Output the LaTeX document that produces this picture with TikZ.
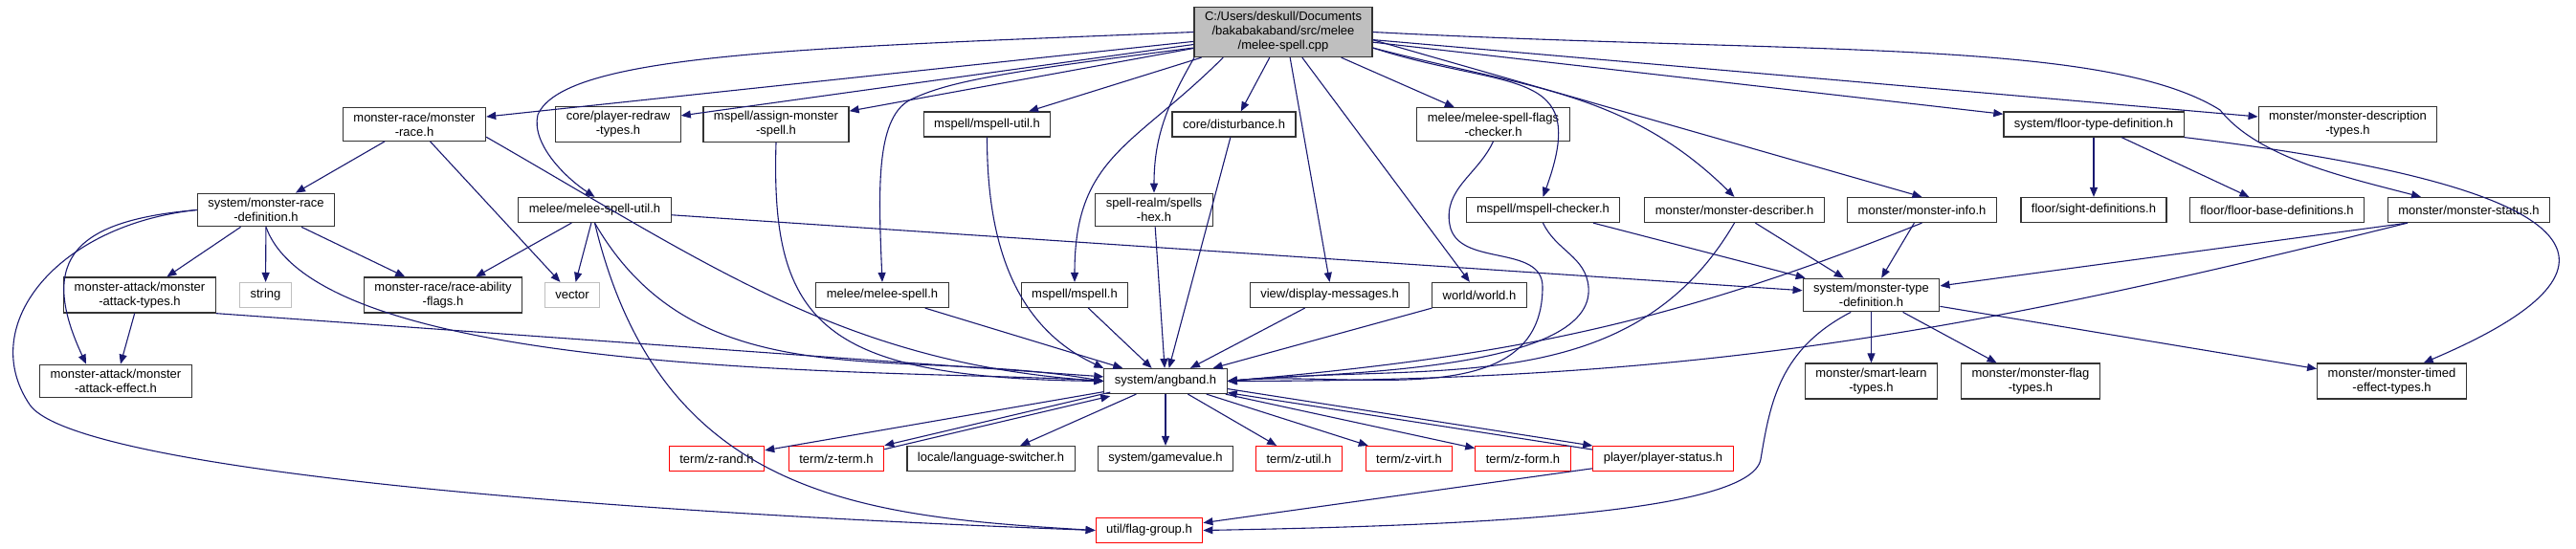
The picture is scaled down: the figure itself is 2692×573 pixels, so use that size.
\documentclass[tikz,border=0pt]{standalone}
\usepackage{fontspec}
\setmainfont{Liberation Sans}
\usepackage{xcolor}
\usetikzlibrary{arrows.meta, positioning}

\definecolor{edgeblue}{HTML}{191970}
\definecolor{rootgray}{HTML}{BFBFBF}
\definecolor{boxline}{HTML}{333333}

\begin{document}
\begin{tikzpicture}[
    x=1pt, y=1pt,
    box/.style={rectangle, draw=boxline, fill=white, line width=1.2pt, inner xsep=11pt, inner ysep=5pt, minimum height=26pt, align=center, font=\fontsize{13}{15}\selectfont},
    rootbox/.style={box, fill=rootgray},
    redbox/.style={box, draw=red},
    sysbox/.style={box, draw=rootgray},
    arrow/.style={-{Triangle[length=10pt, width=8pt]}, draw=edgeblue, line width=1.1pt}
]
    \useasboundingbox (0,0) rectangle (2692,-573);

    % Row 0: source file
    \node[rootbox] (root) at (1341,-33.5) {C:/Users/deskull/Documents\\/bakabakaband/src/melee\\/melee-spell.cpp};

    % Row 1
    \node[box] (mrace) at (433,-130) {monster-race/monster\\-race.h};
    \node[box] (redraw) at (646,-130) {core/player-redraw\\-types.h};
    \node[box] (assign) at (811,-130) {mspell/assign-monster\\-spell.h};
    \node[box] (mspellutil) at (1031.5,-130) {mspell/mspell-util.h};
    \node[box] (disturb) at (1289.5,-130) {core/disturbance.h};
    \node[box] (flagschk) at (1560.5,-130) {melee/melee-spell-flags\\-checker.h};
    \node[box] (floortype) at (2188,-130) {system/floor-type-definition.h};
    \node[box] (mdesctypes) at (2453.5,-130) {monster/monster-description\\-types.h};

    % Row 2
    \node[box] (mracedef) at (278,-219.5) {system/monster-race\\-definition.h};
    \node[box] (meleeutil) at (621.5,-219.5) {melee/melee-spell-util.h};
    \node[box] (spellshex) at (1206,-219.5) {spell-realm/spells\\-hex.h};
    \node[box] (mspchk) at (1612.5,-219.5) {mspell/mspell-checker.h};
    \node[box] (mdescr) at (1812.5,-219.5) {monster/monster-describer.h};
    \node[box] (minfo) at (2008.5,-219.5) {monster/monster-info.h};
    \node[box] (sight) at (2188,-219.5) {floor/sight-definitions.h};
    \node[box] (floorbase) at (2379.5,-219.5) {floor/floor-base-definitions.h};
    \node[box] (mstatus) at (2580,-219.5) {monster/monster-status.h};

    % Row 3
    \node[box] (atktypes) at (146,-308.5) {monster-attack/monster\\-attack-types.h};
    \node[sysbox] (strh) at (277.5,-308.5) {string};
    \node[box] (raceab) at (463,-308.5) {monster-race/race-ability\\-flags.h};
    \node[sysbox] (vech) at (598,-308.5) {vector};
    \node[box] (meleespell) at (922,-308.5) {melee/melee-spell.h};
    \node[box] (mspell) at (1123,-308.5) {mspell/mspell.h};
    \node[box] (dispmsg) at (1389.5,-308.5) {view/display-messages.h};
    \node[box] (world) at (1546,-308.5) {world/world.h};
    \node[box] (mtypedef) at (1955.5,-308.5) {system/monster-type\\-definition.h};

    % Row 4
    \node[box] (atkeffect) at (121,-398.5) {monster-attack/monster\\-attack-effect.h};
    \node[box] (angband) at (1218,-398.5) {system/angband.h};
    \node[box] (smartlearn) at (1955.5,-398.5) {monster/smart-learn\\-types.h};
    \node[box] (flagtypes) at (2122,-398.5) {monster/monster-flag\\-types.h};
    \node[box] (timedeff) at (2499.5,-398.5) {monster/monster-timed\\-effect-types.h};

    % Row 5
    \node[redbox] (zrand) at (749,-479.5) {term/z-rand.h};
    \node[redbox] (zterm) at (874,-479.5) {term/z-term.h};
    \node[box] (langsw) at (1035.5,-479.5) {locale/language-switcher.h};
    \node[box] (gamevalue) at (1218,-479.5) {system/gamevalue.h};
    \node[redbox] (zutil) at (1357.5,-479.5) {term/z-util.h};
    \node[redbox] (zvirt) at (1472.5,-479.5) {term/z-virt.h};
    \node[redbox] (zform) at (1591.5,-479.5) {term/z-form.h};
    \node[redbox] (pstatus) at (1738,-479.5) {player/player-status.h};

    % Row 6
    \node[redbox] (flaggroup) at (1201,-554.5) {util/flag-group.h};

    % Source file includes
    \draw[arrow] (root) -- (mrace);
    \draw[arrow] (root.west) .. controls (850,-50) and (590,-55) .. (562,-120) .. controls (555,-150) and (590,-185) .. (meleeutil.north);
    \draw[arrow] (root) -- (redraw);
    \draw[arrow] (root) -- (assign);
    \draw[arrow] (root.190) .. controls (1050,-75) and (990,-85) .. (950,-105) .. controls (915,-125) and (918,-200) .. (meleespell.north);
    \draw[arrow] (root) -- (mspellutil);
    \draw[arrow] (root.203) to[out=225, in=90, looseness=1.2] (mspell.north);
    \draw[arrow] (root.196) to[out=240, in=90] (spellshex.north);
    \draw[arrow] (root) -- (disturb);
    \draw[arrow] (root.-75) -- (dispmsg.north);
    \draw[arrow] (root) -- (world);
    \draw[arrow] (root) -- (flagschk);
    \draw[arrow] (root.-10) to[out=-18, in=70, looseness=1.6] (mspchk.north);
    \draw[arrow] (root.-10) .. controls (1590,-91) and (1699,-94) .. (mdescr.north);
    \draw[arrow] (root.-5) -- (minfo.north);
    \draw[arrow] (root) -- (floortype);
    \draw[arrow] (root) -- (mdesctypes);
    \draw[arrow] (root.east) .. controls (1887,-57) and (2200,-40) .. (2320,-115) .. controls (2360,-165) and (2450,-185) .. ([xshift=-50pt]mstatus.north);

    % Monster race
    \draw[arrow] (mrace) -- (mracedef);
    \draw[arrow] (mrace) -- (vech);
    \draw[arrow] (mrace.-10) .. controls (743,-278) and (883,-380) .. (angband.west);
    \draw[arrow] (mracedef) -- (atktypes);
    \draw[arrow] (mracedef) -- (strh);
    \draw[arrow] (mracedef) -- (raceab);
    \draw[arrow] (mracedef.south) .. controls (337,-402) and (979,-386) .. (angband.west);
    \draw[arrow] (mracedef.west) to[out=185, in=115, looseness=1.6] (atkeffect.150);
    \draw[arrow] (mracedef.west) .. controls (60,-235) and (-25,-340) .. (31,-423) .. controls (71,-482) and (500,-530) .. (flaggroup.west);
    \draw[arrow] (atktypes) -- (atkeffect);
    \draw[arrow] (atktypes.south east) -- (angband);

    % Melee spell util
    \draw[arrow] (meleeutil) -- (raceab);
    \draw[arrow] (meleeutil) -- (vech);
    \draw[arrow] (meleeutil.south) .. controls (690,-520) and (900,-540) .. (flaggroup.west);
    \draw[arrow] (meleeutil.south) .. controls (730,-421) and (938,-361) .. (angband.west);
    \draw[arrow] (meleeutil) -- (mtypedef);

    % Into angband from above
    \draw[arrow] (assign.south) .. controls (805,-340) and (860,-395) .. (angband.west);
    \draw[arrow] (meleespell) -- (angband);
    \draw[arrow] (mspellutil.south) to[out=-90, in=155] (angband.north west);
    \draw[arrow] (mspell) -- (angband);
    \draw[arrow] (spellshex) -- (angband);
    \draw[arrow] (disturb) -- (angband);
    \draw[arrow] (dispmsg) -- (angband);
    \draw[arrow] (world) -- (angband);
    \draw[arrow] (flagschk.south) to[out=-115, in=100] (1515,-235) to[out=-80, in=90] (1612,-300) .. controls (1612,-434) and (1416,-387) .. (angband.east);
    \draw[arrow] (mspchk.south) to[out=-65, in=95] (1660,-300) .. controls (1668,-391) and (1374,-390) .. (angband.east);
    \draw[arrow] (mdescr.south) .. controls (1704,-419) and (1498,-379) .. (angband.east);
    \draw[arrow] (minfo.south) .. controls (1740,-341) and (1572,-373) .. (angband.east);
    \draw[arrow] (mstatus.192) .. controls (2047,-350) and (1772,-398) .. (angband.east);

    % Monster type definition
    \draw[arrow] (mspchk) -- (mtypedef);
    \draw[arrow] (mdescr) -- (mtypedef);
    \draw[arrow] (minfo) -- (mtypedef);
    \draw[arrow] (mstatus.192) -- (mtypedef);
    \draw[arrow] (mtypedef) -- (smartlearn);
    \draw[arrow] (mtypedef) -- (flagtypes);
    \draw[arrow] (mtypedef) -- (timedeff);
    \draw[arrow] (mtypedef.220) .. controls (1860,-365) and (1850,-420) .. (1840,-480) .. controls (1830,-540) and (1500,-550) .. (flaggroup.east);

    % Floor
    \draw[arrow] (floortype) -- (sight);
    \draw[arrow] (floortype) -- (floorbase);
    \draw[arrow] (floortype.south east) .. controls (2790,-205) and (2720,-300) .. (timedeff.30);

    % Angband includes
    \draw[arrow] (angband) -- (zrand);
    \draw[arrow, transform canvas={yshift=2pt}] (angband) -- (zterm);
    \draw[arrow, transform canvas={yshift=-2pt}] (zterm) -- (angband);
    \draw[arrow] (angband) -- (langsw);
    \draw[arrow] (angband) -- (gamevalue);
    \draw[arrow] (angband) -- (zutil);
    \draw[arrow] (angband) -- (zvirt);
    \draw[arrow] (angband) -- (zform);
    \draw[arrow, transform canvas={yshift=2pt}] (angband) -- (pstatus);
    \draw[arrow, transform canvas={yshift=-2pt}] (pstatus) -- (angband);
    \draw[arrow] (pstatus) -- (flaggroup);
\end{tikzpicture}
\end{document}
